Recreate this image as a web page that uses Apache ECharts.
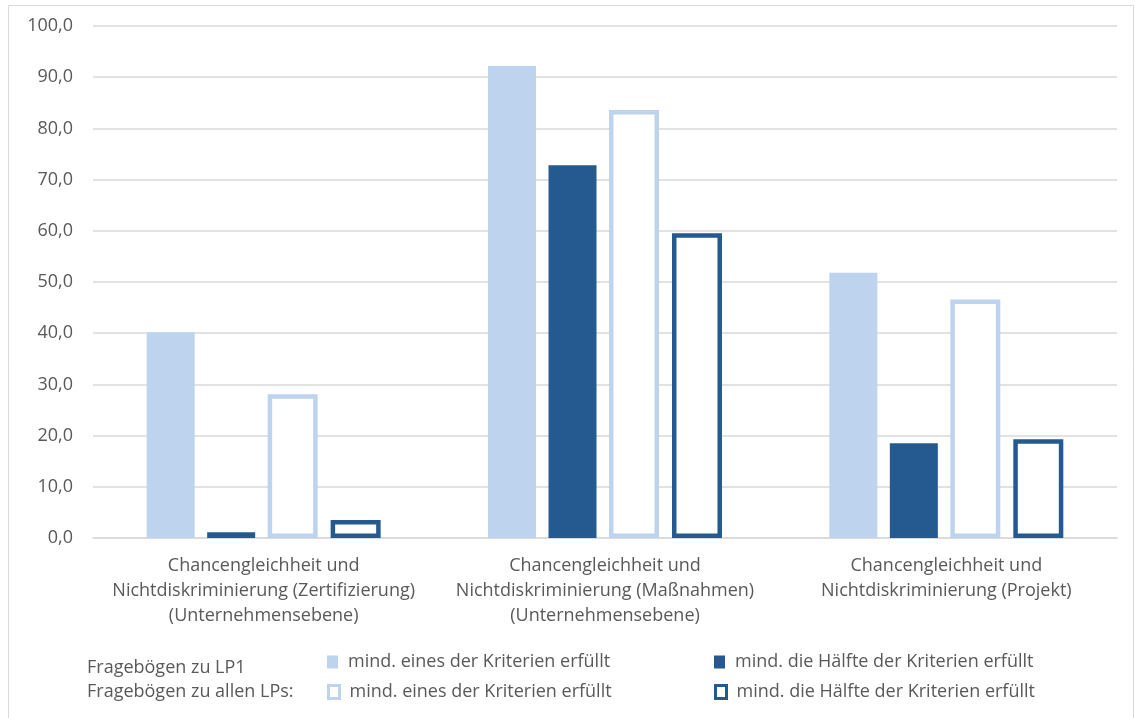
<!DOCTYPE html>
<html>
<head>
<meta charset="utf-8">
<script src="https://cdn.jsdelivr.net/npm/echarts@6/dist/echarts.min.js"></script>
<style>
  html, body { margin: 0; padding: 0; background: #ffffff; }
  #chart { width: 1135px; height: 718px; }
</style>
</head>
<body>
<div id="chart"></div>
<script>
// Categories (x axis)
const categories = [
  'Chancengleichheit und\nNichtdiskriminierung (Zertifizierung)\n(Unternehmensebene)',
  'Chancengleichheit und\nNichtdiskriminierung (Maßnahmen)\n(Unternehmensebene)',
  'Chancengleichheit und\nNichtdiskriminierung (Projekt)'
];

// Percentages per questionnaire group
const lp1Eines   = [40.2, 92.2, 51.8];
const lp1Haelfte = [1.1, 72.8, 18.5];
const allEines   = [28.1, 83.6, 46.6];
const allHaelfte = [3.5, 59.5, 19.3];

// Legend texts and row titles
const labelEines   = 'mind. eines der Kriterien erfüllt';
const labelHaelfte = 'mind. die Hälfte der Kriterien erfüllt';
const rowTitles = ['Fragebögen zu LP1', 'Fragebögen zu allen LPs:'];

// Axis range
const yMin = 0, yMax = 100, yStep = 10;

const LIGHT = '#BDD3EE';
const DARK = '#255A91';
const TEXT = '#595959';
const FONT = 'Open Sans';

const seriesNames = {
  lp1E: 'LP1: ' + labelEines,
  lp1H: 'LP1: ' + labelHaelfte,
  allE: 'Alle: ' + labelEines,
  allH: 'Alle: ' + labelHaelfte
};

const legendText = { fontFamily: FONT, fontSize: 18, color: TEXT, lineHeight: 20, padding: [0, 0, 0, 5] };
const stripPrefix = n => n.slice(n.indexOf(': ') + 2);

function legendAt(name, left, top, iconBorder) {
  const item = iconBorder ? { name: name, itemStyle: { borderWidth: iconBorder } } : name;
  return {
    data: [item], left: left, top: top, orient: 'horizontal',
    icon: 'rect', itemWidth: 11, itemHeight: 13, itemGap: 0,
    padding: 0, selectedMode: false,
    textStyle: legendText, formatter: stripPrefix
  };
}

const chart = echarts.init(document.getElementById('chart'));
chart.setOption({
  animation: false,
  backgroundColor: '#ffffff',
  graphic: [
    { type: 'rect', shape: { x: 8.5, y: 5.5, width: 1125, height: 730 },
      style: { fill: 'none', stroke: '#D9D9D9', lineWidth: 1 }, silent: true, z: -1 },
    { type: 'text', left: 87, top: 659,
      style: { text: rowTitles[0], font: '18px "Open Sans"', fill: TEXT } },
    { type: 'text', left: 87, top: 683,
      style: { text: rowTitles[1], font: '18px "Open Sans"', fill: TEXT } }
  ],
  legend: [
    legendAt(seriesNames.lp1E, 327, 652),
    legendAt(seriesNames.lp1H, 714, 652),
    legendAt(seriesNames.allE, 327, 682, 3),
    legendAt(seriesNames.allH, 714, 682, 3)
  ],
  grid: { left: 93, right: 18, top: 26, bottom: 180, containLabel: false },
  xAxis: {
    type: 'category',
    data: categories,
    axisLine: { show: true, lineStyle: { color: '#D9D9D9', width: 1.5 } },
    axisTick: { show: false },
    axisLabel: {
      interval: 0, margin: 15, fontFamily: FONT, fontSize: 18,
      color: TEXT, lineHeight: 25, align: 'center'
    }
  },
  yAxis: {
    type: 'value',
    min: yMin, max: yMax, interval: yStep,
    axisLine: { show: false },
    axisTick: { show: false },
    splitLine: { lineStyle: { color: '#D9D9D9', width: 1.5 } },
    axisLabel: {
      margin: 20, fontFamily: FONT, fontSize: 18, color: TEXT,
      formatter: v => v.toFixed(1).replace('.', ',')
    }
  },
  series: [
    { name: seriesNames.lp1E, type: 'bar', data: lp1Eines, barWidth: 48, barGap: '26%',
      itemStyle: { color: LIGHT } },
    { name: seriesNames.lp1H, type: 'bar', data: lp1Haelfte, barWidth: 48, barGap: '26%',
      itemStyle: { color: DARK } },
    { name: seriesNames.allE, type: 'bar', data: allEines, barWidth: 50, barGap: '26%',
      itemStyle: { color: '#ffffff', borderColor: LIGHT, borderWidth: 4.5 } },
    { name: seriesNames.allH, type: 'bar', data: allHaelfte, barWidth: 50, barGap: '26%',
      itemStyle: { color: '#ffffff', borderColor: DARK, borderWidth: 4.5 } }
  ]
});
</script>
</body>
</html>
